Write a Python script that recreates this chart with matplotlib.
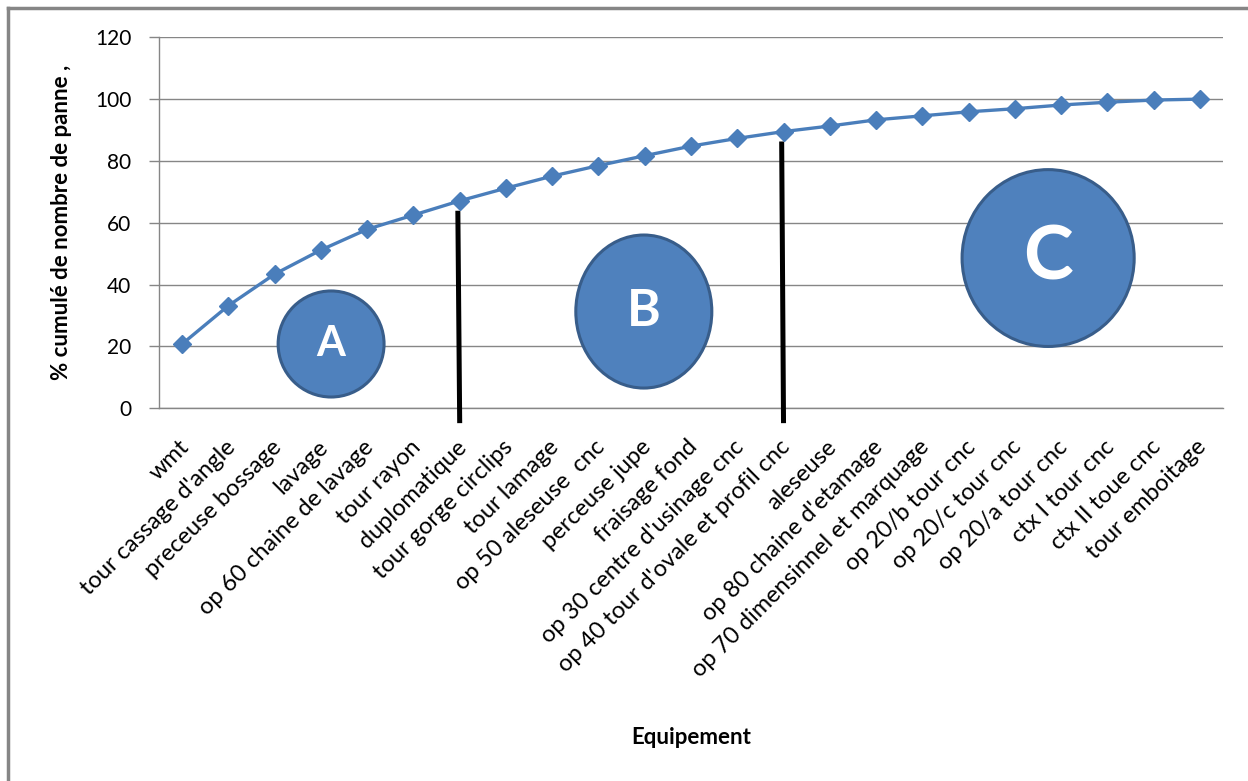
import matplotlib
matplotlib.use("Agg")
import matplotlib.pyplot as plt
import matplotlib.transforms as mtransforms
from matplotlib.patches import Ellipse
from matplotlib.lines import Line2D

plt.rcParams["font.family"] = ["Lato", "DejaVu Sans"]

equipements = [
    "wmt", "tour cassage d'angle", "preceuse bossage", "lavage",
    "op 60 chaine de lavage", "tour rayon", "duplomatique",
    "tour gorge circlips", "tour lamage", "op 50 aleseuse  cnc",
    "perceuse jupe", "fraisage fond", "op 30 centre d'usinage cnc",
    "op 40 tour d'ovale et profil cnc", "aleseuse", "op 80 chaine d'etamage",
    "op 70 dimensinnel et marquage", "op 20/b tour cnc", "op 20/c tour cnc",
    "op 20/a tour cnc", "ctx I tour cnc", "ctx II toue cnc", "tour emboitage",
]
cumul_pct = [20.8, 33.2, 43.4, 51.2, 57.9, 62.5, 67.1, 71.2, 75.1, 78.5,
             81.7, 84.8, 87.3, 89.5, 91.3, 93.3, 94.6, 95.9, 96.9, 98.1,
             99.0, 99.7, 100.0]
y_ticks = [0, 20, 40, 60, 80, 100, 120]

# last equipment of classes A and B
class_limits = ["duplomatique", "op 40 tour d'ovale et profil cnc"]
class_names = ["A", "B", "C"]

GRID = "#868686"
BLUE = "#4F81BD"
EDGE = "#385D8A"

W, H = 1248, 781
fig = plt.figure(figsize=(W / 100, H / 100), dpi=100)
ax = fig.add_axes([159 / W, 1 - 408.3 / H, (1223 - 159) / W, 371 / H])

x = list(range(len(equipements)))
ax.plot(x, cumul_pct, color="#4A7EBB", lw=2.4, marker="D", ms=9.5,
        mec="#4A7EBB", mfc="#4A7EBB", zorder=4, clip_on=False)

ax.set_xlim(-0.5, len(equipements) - 0.5)
ax.set_ylim(0, 120)
ax.set_yticks(y_ticks)
ax.yaxis.grid(True, color=GRID, lw=1.0)
ax.set_axisbelow(True)

for side in ("top", "right"):
    ax.spines[side].set_visible(False)
for side in ("left", "bottom"):
    ax.spines[side].set_color(GRID)
    ax.spines[side].set_linewidth(1.0)

ax.tick_params(axis="y", length=7, width=1.0, color=GRID, pad=13,
               labelsize=15, labelcolor="black")
ax.tick_params(axis="x", length=0, pad=20, labelsize=17)
ax.set_xticks(x)
ax.set_xticklabels(equipements, rotation=45, ha="right", va="top",
                   rotation_mode="anchor")
shift = mtransforms.ScaledTranslation(-4 / 100, 0, fig.dpi_scale_trans)
for lab in ax.get_xticklabels():
    lab.set_transform(lab.get_transform() + shift)

ax.set_ylabel("% cumulé de nombre de panne ,", fontsize=16, fontweight="bold",
              va="center")
ax.yaxis.set_label_coords((62 - 159) / 1064, 0.5)
ax.set_xlabel("Equipement", fontsize=16, fontweight="bold", va="center")
ax.xaxis.set_label_coords(0.5, (408.3 - 738) / 371)

# ABC boundaries
for name in class_limits:
    i = equipements.index(name)
    ax.plot([i - 0.04, i], [cumul_pct[i] - 3.2, -4.8], color="black", lw=3.6,
            solid_capstyle="butt", zorder=3, clip_on=False)

# class badges: (x centre, y centre, width, height, font size)
badges = [
    (3.22, 20.8, 2.29, 34.3, 30),
    (9.98, 31.3, 2.94, 49.5, 37),
    (18.72, 48.6, 3.72, 57.2, 54),
]
for name, (cx, cy, w, h, fs) in zip(class_names, badges):
    ax.add_patch(Ellipse((cx, cy), w, h, facecolor=BLUE, edgecolor=EDGE,
                         lw=2.2, zorder=5))
    ax.text(cx, cy, name, color="white", fontsize=fs, fontweight="bold",
            ha="center", va="center", zorder=6)

# chart frame
fig.add_artist(Line2D([8 / W, 8 / W], [0, 1 - 8 / H], color=GRID, lw=2.5,
                      transform=fig.transFigure))
fig.add_artist(Line2D([8 / W, 1], [1 - 8 / H, 1 - 8 / H], color=GRID, lw=2.5,
                      transform=fig.transFigure))

fig.savefig("out.png", dpi=100)
